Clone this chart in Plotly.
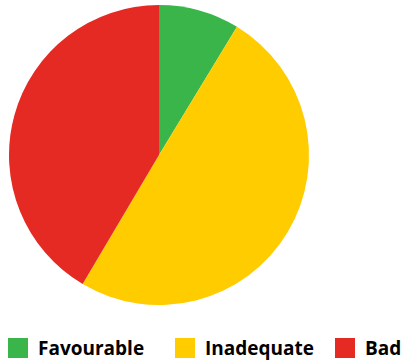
import plotly.graph_objects as go

labels = ["Favourable", "Inadequate", "Bad"]
values = [8.7, 49.8, 41.5]
colors = ["#39B54A", "#FFCC00", "#E52A24"]

W, H = 404, 362
fig = go.Figure(go.Pie(
    labels=labels, values=values, sort=False, direction="clockwise", rotation=0,
    marker=dict(colors=colors, line=dict(width=0)),
    textinfo="none", hoverinfo="label+percent",
    domain=dict(x=[9 / W, 309 / W], y=[1 - 305 / H, 1 - 5 / H]),
    showlegend=False,
))

# legend drawn as squares + labels
sq_x = [8, 175, 335]
for x0, lab, col in zip(sq_x, labels, colors):
    fig.add_shape(type="rect", xref="paper", yref="paper",
                  x0=x0 / W, x1=(x0 + 20) / W, y0=1 - 358 / H, y1=1 - 338 / H,
                  fillcolor=col, line=dict(width=0))
    fig.add_annotation(x=(x0 + 28) / W, y=1 - 348 / H, xref="paper", yref="paper",
                       text="<b>" + lab + "</b>", showarrow=False, xanchor="left", yanchor="middle",
                       font=dict(family="Open Sans", size=19, color="#000000"))

fig.update_layout(width=W, height=H, margin=dict(l=0, r=0, t=0, b=0),
                  paper_bgcolor="white", plot_bgcolor="white")
fig.write_html("out.html", config={"displayModeBar": False},
               post_script="document.body.style.margin='0';document.body.style.overflow='hidden';")
